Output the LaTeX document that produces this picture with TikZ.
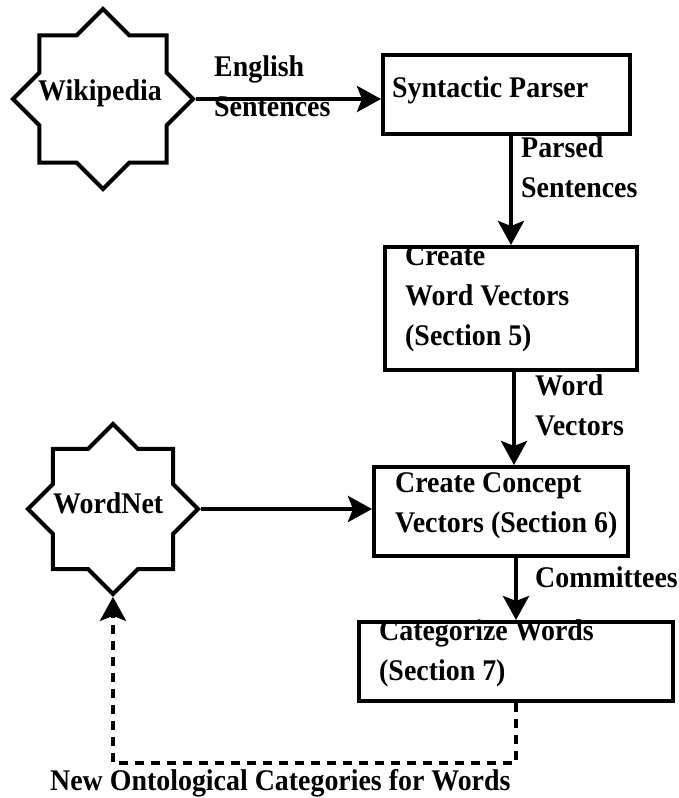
\documentclass[tikz,border=0pt]{standalone}
\usepackage{fontspec}
\setmainfont{Liberation Serif}[FakeStretch=0.93]
\usetikzlibrary{shapes.geometric,arrows.meta,calc}
\newcommand{\toprl}{\rule{0pt}{28pt}}
\begin{document}
\begin{tikzpicture}[x=1pt,y=-1pt,
  starnode/.style={star, star points=8, star point ratio=1.3066, draw, line width=4pt, inner sep=0pt, minimum size=#1},
  boxnode/.style={draw, line width=4pt, rectangle, inner sep=0pt},
  txt/.style={font=\fontsize{30}{40}\selectfont\bfseries, align=left, inner sep=0pt, anchor=north west},
  arr/.style={line width=4pt, -{Stealth[length=24pt,width=26pt,inset=5pt]}},
  fbarr/.style={line width=4pt, dash pattern=on 9pt off 7pt, -{Stealth[length=24pt,width=26pt,inset=5pt]}}
]
\useasboundingbox (0,0) rectangle (678,798);

% stars
\node[starnode=180] (wiki) at (103,99) {};
\node[starnode=170] (wn) at (113,509) {};

% boxes
\node[boxnode, minimum width=247, minimum height=79] (syn) at (506.5,94.5) {};
\node[boxnode, minimum width=252, minimum height=123] (cwv) at (511,308.5) {};
\node[boxnode, minimum width=254, minimum height=89] (ccv) at (501,511.5) {};
\node[boxnode, minimum width=314, minimum height=79] (cat) at (516,661.5) {};

% texts
\node[txt] (twiki) at (38,72) {\toprl Wikipedia};
\node[txt] (twn) at (53,485) {\toprl WordNet};
\node[txt] (tsyn) at (392,69) {\toprl Syntactic Parser};
\node[txt] (tcwv) at (405,237) {\toprl Create\\Word Vectors\\(Section 5)};
\node[txt] (tccv) at (395,464) {\toprl Create Concept\\Vectors (Section 6)};
\node[txt] (tcat) at (379,612) {\toprl Categorize Words\\(Section 7)};

% connector labels
\node[txt] (leng) at (214,48) {\toprl English\\Sentences};
\node[txt] (lpar) at (521,129) {\toprl Parsed\\Sentences};
\node[txt] (lwv) at (535,367) {\toprl Word\\Vectors};
\node[txt] (lcom) at (535,559) {\toprl Committees};
\node[txt] (lnew) at (50,762) {\toprl New Ontological Categories for Words};

% connectors
\draw[arr] (wiki.east) -- (wiki.east -| syn.west);
\draw[arr] (cwv.north |- syn.south) -- (cwv.north);
\draw[arr] ([xshift=3pt]cwv.south) -- ([xshift=3pt]cwv.south |- ccv.north);
\draw[arr] (wn.east) -- (wn.east -| ccv.west);
\draw[arr] (ccv.south -| cat.north) -- (cat.north);
\coordinate (fbc) at (0,763);
\draw[fbarr] (cat.south) -- (cat.south |- fbc) -| (wn.south);
\end{tikzpicture}
\end{document}
